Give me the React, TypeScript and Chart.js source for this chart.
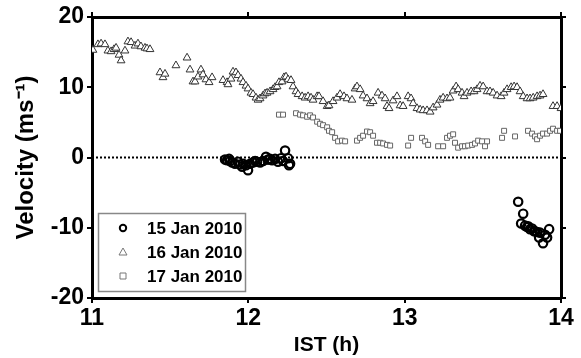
import React, { useEffect, useRef } from "react";
import { Chart, registerables } from "chart.js";

Chart.register(...registerables);

const seriesNames = ["15 Jan 2010", "16 Jan 2010", "17 Jan 2010"];
const xTicks = [11, 12, 13, 14];
const yTicks = [-20, -10, 0, 10, 20];

const jan15T = [11.851, 11.864, 11.877, 11.883, 11.896, 11.915, 11.934, 11.947, 11.96, 11.966, 11.985, 11.998, 12.011, 12.03, 12.043, 12.056, 12.075, 12.094, 12.113, 12.126, 12.139, 12.152, 12.171, 12.19, 12.209, 12.222, 12.235, 12.254, 12.267, 12.26,
  13.726, 13.758, 13.745, 13.77, 13.783, 13.79, 13.802, 13.815, 13.828, 13.834, 13.847, 13.86, 13.866, 13.885, 13.898, 13.911, 13.924];
const jan15V = [-0.3, -0.4, -0.2, -0.5, -0.7, -0.9, -0.6, -1.0, -1.3, -0.9, -1.1, -1.8, -0.9, -0.7, -0.5, -0.6, -0.7, -0.5, 0.1, -0.3, -0.2, -0.4, -0.2, -0.6, -0.1, -0.5, 1.0, -0.1, -0.9, -1.1,
  -6.3, -8.0, -9.4, -9.7, -9.9, -9.8, -10.2, -10.1, -10.5, -10.5, -10.6, -11.4, -10.7, -12.2, -11.0, -11.4, -10.2];

const jan16T = [11.006, 11.038, 11.058, 11.083, 11.102, 11.122, 11.141, 11.154, 11.173, 11.186, 11.211, 11.23, 11.25, 11.275, 11.294, 11.313, 11.339, 11.352, 11.371,
  11.435, 11.454, 11.467, 11.537, 11.608, 11.627, 11.646, 11.659, 11.678, 11.697, 11.71, 11.729, 11.749, 11.768, 11.838, 11.864, 11.87, 11.889, 11.902, 11.921, 11.934, 11.953, 11.966, 11.985, 11.998,
  12.017, 12.03, 12.049, 12.062, 12.075, 12.094, 12.107, 12.12, 12.139, 12.158, 12.171, 12.184, 12.196, 12.216, 12.228, 12.241, 12.254, 12.273, 12.286, 12.305, 12.318, 12.344, 12.363, 12.382, 12.401, 12.414, 12.44, 12.452, 12.478, 12.504, 12.516,
  12.542, 12.567, 12.587, 12.612, 12.631, 12.663, 12.683, 12.695, 12.715, 12.734, 12.759, 12.779, 12.798, 12.83, 12.855, 12.875, 12.887, 12.9, 12.926, 12.951, 12.971, 12.99,
  13.022, 13.041, 13.054, 13.079, 13.099, 13.118, 13.143, 13.163, 13.182, 13.207, 13.226, 13.246, 13.271, 13.29, 13.31, 13.329, 13.342, 13.367, 13.38, 13.399, 13.425, 13.444, 13.463, 13.482, 13.502, 13.527, 13.546, 13.566, 13.591, 13.617, 13.636, 13.655, 13.681, 13.7, 13.719, 13.738, 13.758, 13.783, 13.802, 13.822, 13.847, 13.866, 13.885, 13.949, 13.975, 14.0];
const jan16V = [15.3, 16.1, 16.2, 16.1, 15.2, 15.1, 15.4, 15.6, 14.6, 13.8, 15.2, 16.5, 16.4, 15.9, 16.2, 15.8, 15.6, 15.5, 15.4,
  12.1, 11.4, 11.9, 13.1, 14.2, 12.5, 10.8, 10.8, 11.5, 12.5, 11.8, 11.1, 10.7, 11.4, 11.0, 10.7, 10.4, 11.2, 12.2, 12.1, 11.7, 11.2, 10.7, 10.2, 9.8,
  9.2, 9.0, 8.5, 8.2, 8.4, 8.8, 9.1, 9.2, 9.4, 9.7, 10.0, 10.1, 10.7, 10.8, 11.4, 11.5, 11.1, 11.0, 10.1, 9.4, 9.0, 8.7, 8.5, 8.7, 8.5, 8.2, 8.7, 8.7, 8.0, 7.3, 7.4,
  8.0, 8.5, 9.0, 8.7, 8.4, 8.2, 9.8, 10.1, 9.7, 8.8, 8.4, 7.7, 8.0, 9.2, 8.8, 8.4, 7.3, 7.0, 8.1, 8.7, 7.4, 7.3,
  8.7, 8.4, 7.7, 7.0, 6.8, 6.7, 6.7, 6.5, 7.1, 7.5, 8.2, 8.5, 8.4, 8.5, 9.5, 10.1, 9.7, 9.2, 8.7, 9.2, 9.4, 9.4, 9.7, 10.2, 10.1, 9.4, 9.4, 9.2, 8.8, 8.7, 9.2, 9.7, 10.0, 10.1, 10.0, 9.4, 8.7, 8.4, 8.4, 8.5, 8.7, 8.8, 9.0, 7.3, 7.3, 7.0];

const jan17T = [12.196, 12.222, 12.305, 12.331, 12.35, 12.376, 12.395, 12.414, 12.44, 12.459, 12.478, 12.504, 12.516, 12.536, 12.555, 12.574, 12.599, 12.619,
  12.695, 12.715, 12.734, 12.759, 12.779, 12.798, 12.823, 12.843, 12.862, 12.887, 12.907, 13.022, 13.041, 13.111, 13.131, 13.15, 13.214, 13.246, 13.271, 13.29, 13.31, 13.322,
  13.342, 13.367, 13.386, 13.406, 13.431, 13.45, 13.47, 13.495, 13.514, 13.527, 13.623, 13.636, 13.706, 13.789, 13.815, 13.834, 13.847, 13.866, 13.885, 13.911, 13.93, 13.949, 13.975, 13.994];
const jan17V = [6.1, 6.1, 6.3, 6.1, 6.0, 5.8, 6.0, 5.7, 5.1, 4.8, 4.6, 4.3, 3.8, 3.6, 2.8, 2.3, 2.4, 2.3,
  2.4, 2.8, 3.1, 3.7, 3.6, 3.1, 2.1, 2.1, 2.0, 1.8, 1.7, 1.7, 2.8, 2.8, 2.3, 1.8, 1.6, 1.6, 2.8, 3.1, 3.3, 2.1,
  1.4, 1.6, 1.6, 1.7, 1.8, 2.0, 2.4, 2.3, 1.6, 2.3, 2.8, 3.8, 3.0, 3.8, 3.4, 3.0, 2.6, 3.1, 3.4, 3.4, 3.8, 4.1, 3.8, 3.8];

const zeroLineX = [11, 14];

const FONT = "'Liberation Sans', Arial, Helvetica, sans-serif";

const toPts = (t: number[], v: number[]) => t.map((x, i) => ({ x, y: v[i] }));

const legendPlugin = {
  id: "insetLegend",
  afterDatasetsDraw(chart: any) {
    const ctx = chart.ctx;
    const ca = chart.chartArea;
    const bx = ca.left + 6.5;
    const by = 213.5;
    const bw = 147;
    const bh = 78;
    ctx.save();
    ctx.fillStyle = "#fff";
    ctx.fillRect(bx, by, bw, bh);
    ctx.strokeStyle = "#888";
    ctx.lineWidth = 1.5;
    ctx.strokeRect(bx, by, bw, bh);
    const rows = [228, 252, 276];
    ctx.font = `bold 17px ${FONT}`;
    ctx.textBaseline = "middle";
    ctx.textAlign = "left";
    seriesNames.forEach((name, i) => {
      const cy = rows[i];
      const cx = ca.left + 31;
      ctx.beginPath();
      if (i === 0) {
        ctx.strokeStyle = "#000";
        ctx.lineWidth = 2;
        ctx.arc(cx, cy, 3.2, 0, Math.PI * 2);
        ctx.stroke();
      } else if (i === 1) {
        ctx.strokeStyle = "#777";
        ctx.lineWidth = 1;
        ctx.moveTo(cx, cy - 4);
        ctx.lineTo(cx + 4, cy + 3);
        ctx.lineTo(cx - 4, cy + 3);
        ctx.closePath();
        ctx.stroke();
      } else {
        ctx.strokeStyle = "#777";
        ctx.lineWidth = 1;
        ctx.rect(cx - 3, cy - 3, 6, 6);
        ctx.stroke();
      }
      ctx.fillStyle = "#000";
      ctx.fillText(name, ca.left + 55, cy + 1);
    });
    ctx.restore();
  },
};

export default function App() {
  const ref = useRef<HTMLCanvasElement | null>(null);
  useEffect(() => {
    document.body.style.margin = "0";
    const canvas = ref.current;
    if (!canvas) return;
    const axisCommon = {
      border: { display: true, color: "#000", width: 3 },
      grid: { display: true, drawOnChartArea: false, drawTicks: true, tickLength: 5, color: "#000", lineWidth: 2 },
    };
    const chart = new Chart(canvas, {
      type: "scatter",
      data: {
        datasets: [
          {
            type: "line" as any,
            label: "zero",
            data: toPts(zeroLineX, [0, 0]),
            borderColor: "#000",
            borderWidth: 2,
            borderDash: [2, 2],
            pointRadius: 0,
            showLine: true,
            fill: false,
          },
          {
            label: seriesNames[2],
            data: toPts(jan17T, jan17V),
            pointStyle: "rect",
            pointRadius: 3.5,
            borderColor: "#666",
            backgroundColor: "#fff",
            borderWidth: 1,
          },
          {
            label: seriesNames[1],
            data: toPts(jan16T, jan16V),
            pointStyle: "triangle",
            pointRadius: 4.5,
            borderColor: "#333",
            backgroundColor: "#fff",
            borderWidth: 1,
          },
          {
            label: seriesNames[0],
            data: toPts(jan15T, jan15V),
            pointStyle: "circle",
            pointRadius: 4.2,
            borderColor: "#000",
            backgroundColor: "rgba(255,255,255,0)",
            borderWidth: 2.2,
          },
        ],
      },
      options: {
        responsive: false,
        animation: false,
        layout: { padding: 0 },
        plugins: { legend: { display: false }, tooltip: { enabled: false } },
        scales: {
          x: {
            type: "linear",
            position: "bottom",
            min: 11,
            max: 14,
            afterBuildTicks: (s: any) => { s.ticks = xTicks.map((v) => ({ value: v })); },
            afterFit: (s: any) => { s.height = 60; },
            ticks: { color: "#000", font: { family: FONT, size: 23, weight: "bold" }, padding: 2, maxRotation: 0 },
            title: { display: true, text: "IST (h)", color: "#000", font: { family: FONT, size: 21, weight: "bold" }, padding: { top: 0, bottom: 0 } },
            ...axisCommon,
          },
          x2: {
            type: "linear",
            position: "top",
            min: 11,
            max: 14,
            afterBuildTicks: (s: any) => { s.ticks = xTicks.map((v) => ({ value: v })); },
            afterFit: (s: any) => { s.height = 17; },
            ticks: { display: false },
            ...axisCommon,
          },
          y: {
            type: "linear",
            position: "left",
            min: -20,
            max: 20,
            afterBuildTicks: (s: any) => { s.ticks = yTicks.map((v) => ({ value: v })); },
            afterFit: (s: any) => { s.width = 92; },
            ticks: { color: "#000", font: { family: FONT, size: 23, weight: "bold" }, padding: 3 },
            title: { display: true, text: "Velocity (ms⁻¹)", color: "#000", font: { family: FONT, size: 24, weight: "bold" }, padding: { top: 12, bottom: 0 } },
            ...axisCommon,
          },
          y2: {
            type: "linear",
            position: "right",
            min: -20,
            max: 20,
            afterBuildTicks: (s: any) => { s.ticks = yTicks.map((v) => ({ value: v })); },
            afterFit: (s: any) => { s.width = 20; },
            ticks: { display: false },
            ...axisCommon,
          },
        },
      } as any,
      plugins: [legendPlugin],
    });
    return () => chart.destroy();
  }, []);
  return (
    <div style={{ width: 581, height: 358, background: "#fff" }}>
      <canvas ref={ref} width={581} height={358} />
    </div>
  );
}
